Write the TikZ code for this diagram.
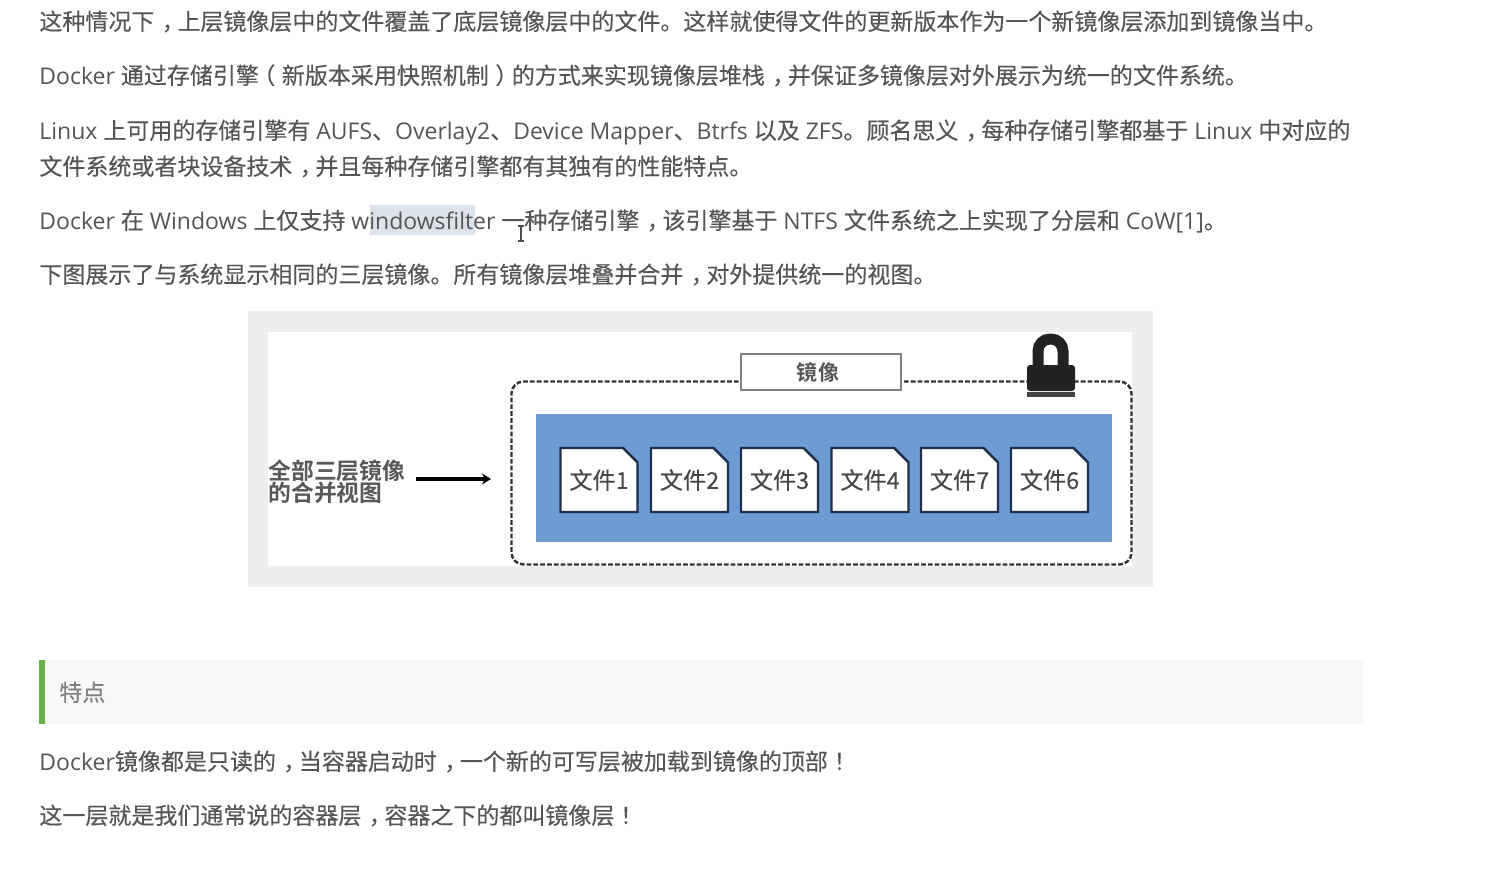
\documentclass[tikz,border=0pt]{standalone}
\usepackage{fontspec}
\setmainfont{Open Sans}
\newfontfamily\cn{Noto Sans CJK SC}[FakeBold=0.2]
\newfontfamily\cnstrong{Noto Sans CJK SC Bold}
\newfontfamily\cnp{Noto Sans CJK TC}[FakeBold=0.2]
\newcommand{\cma}{{\cn\kern0.32em ，\kern-0.32em}}
\newcommand{\lpar}{{\cn\kern-0.28em （\kern0.28em}}
\newcommand{\rpar}{{\cn\kern0.28em ）\kern-0.28em}}
\newcommand{\excl}{{\cnp ！}}
\newcommand{\ftxt}[1]{\makebox[27pt][c]{\raisebox{-1.8pt}{#1}}}
\usetikzlibrary{shapes.misc,arrows.meta}
\definecolor{bodytext}{HTML}{555555}
\definecolor{framegray}{HTML}{EEEEEE}
\definecolor{layerblue}{HTML}{6F9BD5}
\definecolor{filenavy}{HTML}{1F2F4A}
\definecolor{selectblue}{HTML}{DDE3EA}
\definecolor{barGreen}{HTML}{6AB04C}
\definecolor{bandgray}{HTML}{F8F8F8}
\definecolor{lockblack}{HTML}{222222}
\tikzset{
  textline/.style={anchor=base west,inner sep=0pt,text=bodytext,font=\fontsize{11.5pt}{13pt}\selectfont},
  filebox/.style={chamfered rectangle,chamfered rectangle corners=north east,chamfered rectangle xsep=3.6pt,chamfered rectangle ysep=3.6pt,
    draw=filenavy,line width=1.2pt,fill=white,minimum width=38.5pt,minimum height=32pt,inner sep=0pt,text=black!72,
    font=\cn\fontsize{11.6pt}{13pt}\selectfont},
  imagebox/.style={draw=black!50,line width=1.1pt,fill=white,minimum width=80pt,minimum height=18pt,inner sep=0pt,
    text=black!65,font=\cnstrong\fontsize{10.5pt}{13pt}\selectfont},
  dashedbox/.style={draw=black!80,line width=1.2pt,dash pattern=on 2.4pt off 1pt,rounded corners=6pt,
    minimum width=310pt,minimum height=91.5pt,inner sep=0pt},
  mergedlabel/.style={anchor=north west,inner sep=0pt,align=left,text=black!65,
    font=\cnstrong\fontsize{11.4pt}{11pt}\selectfont},
  linkarrow/.style={draw=black,line width=1.7pt,-{Stealth[length=4.5pt,width=5.5pt]}},
}
\begin{document}
\begin{tikzpicture}[x=0.5pt,y=-0.5pt]
\fill[white] (0,0) rectangle (1506,891);
\useasboundingbox (0,0) rectangle (1506,891);
% selection
\fill[selectblue] (370,205) rectangle (475,235);
% text
\node[textline] (l1) at (39,30) {\cn 这种情况下\cma 上层镜像层中的文件覆盖了底层镜像层中的文件。这样就使得文件的更新版本作为一个新镜像层添加到镜像当中。};
\node[textline] (l2) at (39,84) {Docker {\cn 通过存储引擎\lpar 新版本采用快照机制\rpar 的方式来实现镜像层堆栈\cma 并保证多镜像层对外展示为统一的文件系统。}};
\node[textline] (l3) at (39,139) {Linux {\cn 上可用的存储引擎有} AUFS{\cn 、}Overlay2{\cn 、}Device Mapper{\cn 、}Btrfs {\cn 以及} ZFS{\cn 。顾名思义\cma 每种存储引擎都基于} Linux {\cn 中对应的}};
\node[textline] (l4) at (39,175) {\cn 文件系统或者块设备技术\cma 并且每种存储引擎都有其独有的性能特点。};
\node[textline] (l5) at (39,229) {Docker {\cn 在} Windows {\cn 上仅支持} windowsfilter {\cn 一种存储引擎\cma 该引擎基于} NTFS {\cn 文件系统之上实现了分层和} CoW[1]{\cn 。}};
\node[textline] (l6) at (39,283) {\cn 下图展示了与系统显示相同的三层镜像。所有镜像层堆叠并合并\cma 对外提供统一的视图。};
% text cursor
\draw[black!70,line width=0.6pt] (518,226) -- (524,226) (521,226) -- (521,241) (518,241) -- (524,241);
% frame
\fill[framegray] (248,311) rectangle (1153,587);
\fill[white] (268,332) rectangle (1132,566);
% dashed image box
\node[dashedbox] (img) at (821.5,473) {};
\fill[layerblue] (536,414) rectangle (1112,542);
\node[imagebox] (title) at (821,372) {\hspace*{-3pt}镜\hspace{0.6pt}像};
% files
\node[filebox] (f1) at (599,480) {\ftxt{文件1}};
\node[filebox] (f2) at (689.5,480) {\ftxt{文件2}};
\node[filebox] (f3) at (779.5,480) {\ftxt{文件3}};
\node[filebox] (f4) at (870,480) {\ftxt{文件4}};
\node[filebox] (f7) at (959.5,480) {\ftxt{文件7}};
\node[filebox] (f6) at (1049.5,480) {\ftxt{文件6}};
% lock
\draw[lockblack,line width=5.5pt,rounded corners=6pt] (1038,370) -- (1038,339) -- (1063,339) -- (1063,370);
\fill[lockblack,rounded corners=1.5pt] (1027,365) rectangle (1075,391);
\fill[lockblack!85] (1027,392) rectangle (1075,396.5);
% merged view
\node[mergedlabel] (merged) at (268,460) {全部三层镜像\\的合并视图};
\coordinate (arrowstart) at (416,479);
\coordinate (arrowend) at (491,479);
\draw[linkarrow] (arrowstart) -- (arrowend);
% band
\fill[bandgray] (45,660) rectangle (1363,724);
\fill[barGreen] (39,660) rectangle (45,724);
\node[textline,text=black!50] (feat) at (59,701) {\cn 特点};
\node[textline] (l7) at (39,770) {Docker{\cn 镜像都是只读的\cma 当容器启动时\cma 一个新的可写层被加载到镜像的顶部\excl}};
\node[textline] (l8) at (39,824) {\cn 这一层就是我们通常说的容器层\cma 容器之下的都叫镜像层\excl};
\end{tikzpicture}
\end{document}
